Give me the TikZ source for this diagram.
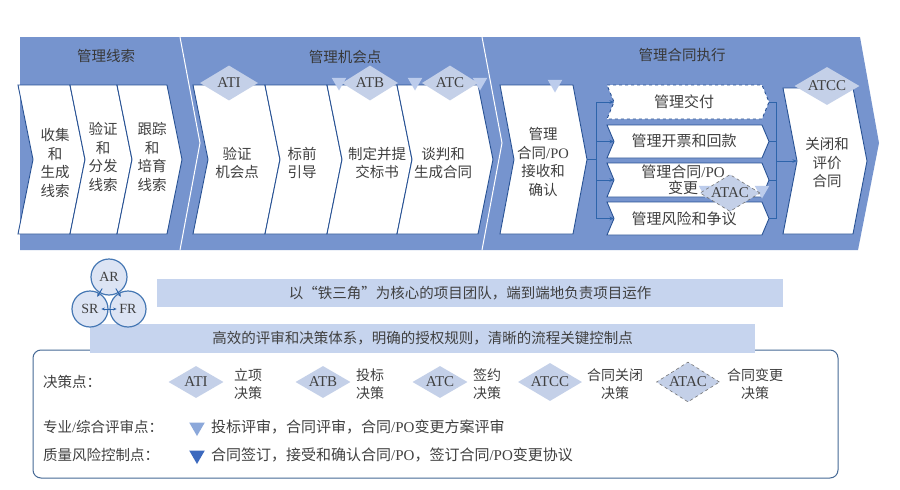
\documentclass[tikz,border=0pt]{standalone}
\usepackage{fontspec}
\setmainfont{Noto Sans CJK SC}
\newfontfamily\lat{Liberation Serif}
\usetikzlibrary{shapes.geometric,arrows.meta,calc}
\definecolor{bandc}{RGB}{118,148,206}
\definecolor{chevline}{RGB}{40,82,148}
\definecolor{diac}{RGB}{196,208,232}
\definecolor{tripale}{RGB}{188,204,236}
\definecolor{trilight}{RGB}{140,168,218}
\definecolor{tridark}{RGB}{60,105,190}
\definecolor{bannerc}{RGB}{198,212,238}
\definecolor{txtc}{RGB}{64,64,64}
\definecolor{cconn}{RGB}{46,100,170}
\definecolor{circfill}{RGB}{220,228,244}
\definecolor{circline}{RGB}{70,120,180}
\definecolor{boxline}{RGB}{70,105,150}
\newcommand{\chevshape}[6][]{\draw[chev,#1] (#2,#4) -- (#3,#4) -- ({#3+#6},{(#4+#5)/2}) -- (#3,#5) -- (#2,#5) -- ({#2+#6},{(#4+#5)/2}) -- cycle;}
\begin{document}
\begin{tikzpicture}[x=1pt,y=-1pt,
  every node/.style={text=txtc},
  chev/.style={fill=white, draw=chevline, line width=0.9pt, line join=miter},
  ctext/.style={align=center, font=\fontsize{14.5}{18.5}\selectfont, inner sep=0},
  subtext/.style={align=center, font=\fontsize{15}{16}\selectfont, inner sep=0},
  titletext/.style={font=\fontsize{14.5}{17}\selectfont, text=black!78},
  dnode/.style={diamond, aspect=1.7, fill=diac, inner sep=0, font=\lat\fontsize{15}{15}\selectfont, text=black!75},
  ptri/.style={regular polygon, regular polygon sides=3, shape border rotate=180, minimum size=17pt, inner sep=0, fill=tripale},
  connl/.style={draw=cconn, line width=0.8pt},
  carr/.style={draw=cconn, line width=0.8pt, -{Stealth[length=4.5pt,width=3.5pt]}},
  tarr/.style={draw=cconn, line width=0.9pt, -{Stealth[length=3.5pt,width=3pt]}},
  circ/.style={circle, minimum size=36pt, inner sep=0, fill=circfill, draw=circline, line width=1.2pt, font=\lat\fontsize{14}{14}\selectfont, text=black!75},
  bannerbox/.style={fill=bannerc, inner sep=0, font=\fontsize{14.5}{17}\selectfont},
  ltext/.style={align=center, font=\fontsize{14}{18}\selectfont, inner sep=0},
  lbl/.style={anchor=west, font=\fontsize{14.5}{16}\selectfont, inner sep=0}
]
\useasboundingbox (0,0) rectangle (900,490);
\fill[white] (0,0) rectangle (900,490);

% main band
\fill[bandc] (20,37) -- (860,37) -- (879,143) -- (858,250) -- (20,250) -- cycle;
\draw[white, line width=1pt] (180,37) -- (200,143) -- (180,250);
\draw[white, line width=1pt] (482,37) -- (502,143) -- (482,250);

% section titles
\node[titletext] (t1) at (106,56) {管理线索};
\node[titletext] (t2) at (345,57) {管理机会点};
\node[titletext] (t3) at (682,55) {管理合同执行};

% chevrons
\chevshape{18}{70}{85}{234}{15}
\chevshape{70}{117}{85}{234}{15}
\chevshape{117}{167}{85}{234}{15}
\chevshape{193}{265}{85}{234}{15}
\chevshape{265}{327}{85}{234}{15}
\chevshape{327}{397}{85}{234}{15}
\chevshape{397}{478}{85}{234}{15}
\chevshape{500}{573}{85}{234}{14}
\chevshape{783}{853}{88}{234}{14}
\chevshape[dashed]{607}{762}{85}{119}{7}
\chevshape{607}{762}{125}{158}{7}
\chevshape{607}{762}{163}{197}{7}
\chevshape{607}{762}{202}{235}{7}

\node[ctext] (c1) at (55,163) {收集\\和\\生成\\线索};
\node[ctext] (c2) at (103,157) {验证\\和\\分发\\线索};
\node[ctext] (c3) at (152,157) {跟踪\\和\\培育\\线索};
\node[ctext] (c4) at (237,163) {验证\\机会点};
\node[ctext] (c5) at (302,163) {标前\\引导};
\node[ctext] (c6) at (377,163) {制定并提\\交标书};
\node[ctext] (c7) at (443,163) {谈判和\\生成合同};
\node[ctext] (c8) at (543,162) {管理\\合同{\lat /PO}\\接收和\\确认};
\node[ctext] (c9) at (827,163) {关闭和\\评价\\合同};
\node[subtext] (s1) at (684,102) {管理交付};
\node[subtext] (s2) at (684,141) {管理开票和回款};
\node[subtext] (s3) at (683,180) {管理合同{\lat /PO}\\变更};

% connectors in contract execution
\coordinate (c8p) at (587,159.5);
\coordinate (lv1) at (596,102);
\coordinate (lv2) at (596,141.5);
\coordinate (lv3) at (596,180);
\coordinate (lv4) at (596,218.5);
\coordinate (lvm) at (596,159.5);
\coordinate (s1in) at (614,102);
\coordinate (s2in) at (614,141.5);
\coordinate (s3in) at (614,180);
\coordinate (s4in) at (614,218.5);
\coordinate (s1out) at (769,102);
\coordinate (s2out) at (769,141.5);
\coordinate (s3out) at (769,180);
\coordinate (s4out) at (769,218.5);
\coordinate (rv1) at (776,102);
\coordinate (rv2) at (776,141.5);
\coordinate (rv3) at (776,180);
\coordinate (rv4) at (776,218.5);
\coordinate (rvm) at (776,161);
\coordinate (c9in) at (797,161);
\draw[connl] (c8p) -- (lvm);
\draw[connl] (lv1) -- (lv4);
\draw[carr] (lv1) -- (s1in);
\draw[carr] (lv2) -- (s2in);
\draw[carr] (lv3) -- (s3in);
\draw[carr] (lv4) -- (s4in);
\draw[connl] (s1out) -- (rv1);
\draw[connl] (s2out) -- (rv2);
\draw[connl] (s3out) -- (rv3);
\draw[connl] (s4out) -- (rv4);
\draw[connl] (rv1) -- (rv4);
\draw[carr] (rvm) -- (c9in);

% review triangles on band
\node[ptri] (p1) at (339,82) {};
\node[ptri] (p2) at (415,82) {};
\node[ptri] (p3) at (480,82) {};
\node[ptri] (p4) at (555,84) {};
\node[ptri] (p5) at (706,190) {};
\node[ptri] (p6) at (762,190) {};

% decision diamonds on band
\node[dnode, minimum width=58pt, minimum height=35pt] (ati) at (229,83) {ATI};
\node[dnode, minimum width=56pt, minimum height=35pt] (atb) at (370,83) {ATB};
\node[dnode, minimum width=56pt, minimum height=35pt] (atc) at (450,83) {ATC};
\node[dnode, minimum width=65pt, minimum height=38pt] (atcc) at (827,86) {ATCC};
\node[dnode, minimum width=60pt, minimum height=37pt, draw=black!55, dashed, line width=0.6pt] (atac) at (730,193) {ATAC};
\node[subtext] (s4) at (684,219) {管理风险和争议};

% iron triangle banner
\node[bannerbox, minimum width=626pt, minimum height=28pt] (b1) at (470,293) {以“铁三角”为核心的项目团队，端到端地负责项目运作};

% legend box
\node[draw=boxline, line width=1pt, rounded corners=8pt, minimum width=805pt, minimum height=128pt, inner sep=0] (legend) at (435.5,414) {};
\node[bannerbox, minimum width=665pt, minimum height=29pt] (b2) at (422.5,338.5) {高效的评审和决策体系，明确的授权规则，清晰的流程关键控制点};

\node[circ] (AR) at (109,277) {AR};
\node[circ] (SR) at (90,309) {SR};
\node[circ] (FR) at (128,309) {FR};
\draw[tarr] ($(AR)!0.36!(SR)$) -- ($(AR)!0.62!(SR)$);
\draw[tarr] ($(AR)!0.36!(FR)$) -- ($(AR)!0.62!(FR)$);
\draw[tarr, {Stealth[length=3.5pt,width=3pt]}-{Stealth[length=3.5pt,width=3pt]}] ($(SR)!0.3!(FR)$) -- ($(SR)!0.7!(FR)$);

% legend contents
\node[lbl] (l1) at (43,382) {决策点：};
\node[dnode, minimum width=55pt, minimum height=32pt] (lati) at (196,382) {ATI};
\node[ltext] (d1) at (248,384) {立项\\决策};
\node[dnode, minimum width=55pt, minimum height=32pt] (latb) at (323,382) {ATB};
\node[ltext] (d2) at (370,384) {投标\\决策};
\node[dnode, minimum width=55pt, minimum height=32pt] (latc) at (440,382) {ATC};
\node[ltext] (d3) at (487,384) {签约\\决策};
\node[dnode, minimum width=64pt, minimum height=38pt] (latcc) at (550,382) {ATCC};
\node[ltext] (d4) at (615,384) {合同关闭\\决策};
\node[dnode, minimum width=63pt, minimum height=40pt, draw=black!55, dashed, line width=0.6pt] (latac) at (688,382) {ATAC};
\node[ltext] (d5) at (755,384) {合同变更\\决策};

\node[lbl] (l2) at (43,427) {专业{\lat /}综合评审点：};
\node[ptri, fill=trilight, minimum size=18pt] (lt1) at (197,427) {};
\node[lbl, font=\fontsize{15}{16}\selectfont] (r2) at (211,427) {投标评审，合同评审，合同{\lat /PO}变更方案评审};
\node[lbl] (l3) at (43,455) {质量风险控制点：};
\node[ptri, fill=tridark, minimum size=18pt] (lt2) at (197,455) {};
\node[lbl, font=\fontsize{15}{16}\selectfont] (r3) at (211,455) {合同签订，接受和确认合同{\lat /PO}，签订合同{\lat /PO}变更协议};
\end{tikzpicture}
\end{document}
